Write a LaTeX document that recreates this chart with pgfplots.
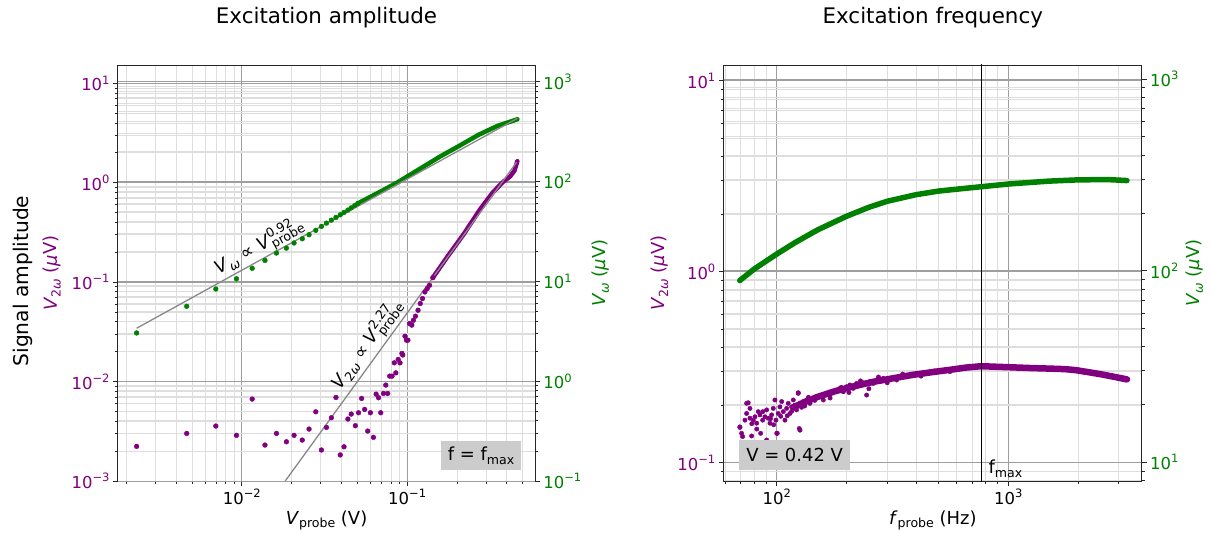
\documentclass[border=0pt]{standalone}
\usepackage{fontspec}
\setmainfont{DejaVu Sans}
\usepackage{graphicx}
\usepackage{pgfplots}
\pgfplotsset{compat=1.18}

\definecolor{vio}{HTML}{800080}
\definecolor{grn}{HTML}{008000}
\definecolor{boxgray}{HTML}{CCCCCC}
\definecolor{fitgray}{HTML}{888888}

\newcommand{\fsz}[1]{\fontsize{#1}{#1}\selectfont}
\newcommand{\sps}[1]{\raisebox{0.4em}{\scalebox{0.7}{#1}}}
\newcommand{\sbs}[1]{\raisebox{-0.22em}{\scalebox{0.7}{#1}}}
\newcommand{\spsb}[2]{\rlap{\sps{#1}}\sbs{#2}}
\newcommand{\tlfont}{\fsz{16.5}}

\tikzset{
  mydots/.style={only marks, mark=*, mark size=2.4bp},
  myband/.style={line width=#1, line cap=round, line join=round},
}

\begin{document}
\begin{tikzpicture}
\useasboundingbox (0bp,0bp) rectangle (1212bp,533bp);

% ================= left panel: excitation amplitude =================
% frame, ticks and grid of the left (V_2w) scale
\begin{axis}[xmode=log, ymode=log, scale only axis, anchor=south west,
  at={(117.9bp,52bp)}, width=417.1bp, height=416bp,
  tick align=outside, major tick length=4.9bp, minor tick length=2.8bp,
  axis line style={black!85, line width=0.8bp},
  tick style={black!85, line width=0.8bp},
  tick label style={font=\tlfont},
  major grid style={black!38, line width=0.9bp},
  minor grid style={black!13, line width=0.8bp},
  xmin=1.78e-3, xmax=0.593, ymin=1e-3, ymax=15.3,
  xtick={0.01,0.1}, xticklabels={10\sps{−2},10\sps{−1}},
  minor xtick={0.002,0.003,0.004,0.005,0.006,0.007,0.008,0.009,
    0.02,0.03,0.04,0.05,0.06,0.07,0.08,0.09,0.2,0.3,0.4,0.5},
  ytick={0.001,0.01,0.1,1,10},
  yticklabels={10\sps{−3},10\sps{−2},10\sps{−1},10\sps{0},10\sps{1}},
  minor ytick={0.002,0.003,0.004,0.005,0.006,0.007,0.008,0.009,
    0.02,0.03,0.04,0.05,0.06,0.07,0.08,0.09,
    0.2,0.3,0.4,0.5,0.6,0.7,0.8,0.9,2,3,4,5,6,7,8,9},
  xtick pos=left, ytick pos=left,
  yticklabel style={text=vio},
  xmajorgrids, xminorgrids, ymajorgrids, yminorgrids]
\end{axis}
% ticks and grid of the right (V_w) scale
\begin{axis}[xmode=log, ymode=log, scale only axis, anchor=south west,
  at={(117.9bp,52bp)}, width=417.1bp, height=416bp,
  tick align=outside, major tick length=4.9bp, minor tick length=2.8bp,
  axis line style={black!85, line width=0.8bp},
  tick style={black!85, line width=0.8bp},
  tick label style={font=\tlfont},
  major grid style={black!38, line width=0.9bp},
  minor grid style={black!13, line width=0.8bp},
  xmin=1.78e-3, xmax=0.593, ymin=0.1, ymax=1469,
  axis x line=none, axis y line*=right,
  ytick={0.1,1,10,100,1000},
  yticklabels={10\sps{−1},10\sps{0},10\sps{1},10\sps{2},10\sps{3}},
  minor ytick={0.2,0.3,0.4,0.5,0.6,0.7,0.8,0.9,2,3,4,5,6,7,8,9,
    20,30,40,50,60,70,80,90,200,300,400,500,600,700,800,900},
  yticklabel style={text=grn},
  ymajorgrids, yminorgrids]
\end{axis}
% V_2w data
\begin{axis}[xmode=log, ymode=log, scale only axis, anchor=south west,
  at={(117.9bp,52bp)}, width=417.1bp, height=416bp, hide axis,
  xmin=1.78e-3, xmax=0.593, ymin=1e-3, ymax=15.3]
\addplot[mydots, color=vio] coordinates {
  (0.00231,2.23e-3) (0.00464,3.01e-3) (0.00696,3.57e-3) (0.00928,2.88e-3)
  (0.01155,6.67e-3) (0.0138,2.30e-3) (0.0162,3.01e-3) (0.0186,2.48e-3)
  (0.0207,2.88e-3) (0.0232,2.58e-3) (0.0255,3.33e-3) (0.0280,4.97e-3)
  (0.0303,2.05e-3) (0.0325,3.46e-3) (0.0348,4.33e-3) (0.0371,6.93e-3)
  (0.0394,1.83e-3) (0.0415,2.21e-3) (0.0438,4.2e-3) (0.0459,4.71e-3)
  (0.0486,3.6e-3) (0.0508,4.86e-3) (0.053,6.77e-3) (0.0553,5.25e-3)
  (0.0577,3.18e-3) (0.0599,4.86e-3) (0.0625,2.75e-3) (0.0649,7.48e-3)
  (0.0671,6.88e-3) (0.0692,4.86e-3) (0.0719,7.6e-3) (0.0742,9.22e-3)
  (0.0762,7.6e-3) (0.0784,1.135e-2) (0.081,1.135e-2) (0.0836,1.545e-2)
  (0.0854,1.225e-2) (0.0882,1.67e-2) (0.0905,1.545e-2) (0.093,1.92e-2)
  (0.094,1.85e-2) (0.097,2.86e-2) (0.099,2.61e-2) (0.101,2.61e-2)
  (0.1034,3.84e-2) (0.1066,3.7e-2) (0.109,4.14e-2) (0.1123,4.55e-2)
  (0.1163,5.22e-2) (0.12,6.1e-2) (0.1238,6.84e-2) (0.128,7.98e-2)
  (0.1322,8.62e-2) (0.1366,9.31e-2) (0.143,0.111)};
\addplot[vio, myband=4.5bp] coordinates {
  (0.143,0.111) (0.175,0.180) (0.22,0.305) (0.276,0.540) (0.33,0.80)
  (0.38,1.02) (0.42,1.16) (0.445,1.32) (0.464,1.65)};
\addplot[fitgray, line width=1.3bp] coordinates {(0.0183,0.001) (0.459,1.61)};
\end{axis}
% V_w data
\begin{axis}[xmode=log, ymode=log, scale only axis, anchor=south west,
  at={(117.9bp,52bp)}, width=417.1bp, height=416bp, hide axis,
  xmin=1.78e-3, xmax=0.593, ymin=0.1, ymax=1469]
\addplot[mydots, color=grn] coordinates {
  (0.00231,3.04) (0.00464,5.62) (0.00696,8.38) (0.00928,10.6) (0.01155,13.5)
  (0.0138,16.2) (0.0162,19.2) (0.0186,21.5) (0.0207,24.2) (0.0232,26.7)
  (0.0255,29.3) (0.0280,32.4) (0.0303,35.5) (0.0325,38.3) (0.0348,41.0)
  (0.0371,43.7) (0.0394,46.4) (0.0415,49.0) (0.0438,51.7) (0.0459,54.5)
  (0.0482,57.5) (0.0503,60.3)};
\addplot[grn, myband=4.5bp] coordinates {
  (0.0503,60.3) (0.0711,81.3) (0.088,98.5) (0.1212,136) (0.1581,177.8)
  (0.2064,227.4) (0.2695,292.8) (0.3517,360.5) (0.4642,420)};
\addplot[fitgray, line width=1.3bp] coordinates {(0.00231,3.39) (0.4645,430)};
\end{axis}

% ================= right panel: excitation frequency =================
\begin{axis}[xmode=log, ymode=log, scale only axis, anchor=south west,
  at={(723.7bp,52bp)}, width=418.1bp, height=416bp,
  tick align=outside, major tick length=4.9bp, minor tick length=2.8bp,
  axis line style={black!85, line width=0.8bp},
  tick style={black!85, line width=0.8bp},
  tick label style={font=\tlfont},
  major grid style={black!38, line width=0.9bp},
  minor grid style={black!13, line width=0.8bp},
  xmin=59, xmax=3776, ymin=0.0802, ymax=12.08,
  xtick={100,1000}, xticklabels={10\sps{2},10\sps{3}},
  minor xtick={60,70,80,90,200,300,400,500,600,700,800,900,2000,3000},
  ytick={0.1,1,10}, yticklabels={10\sps{−1},10\sps{0},10\sps{1}},
  minor ytick={0.09,0.2,0.3,0.4,0.5,0.6,0.7,0.8,0.9,2,3,4,5,6,7,8,9},
  xtick pos=left, ytick pos=left,
  yticklabel style={text=vio},
  xmajorgrids, xminorgrids, ymajorgrids, yminorgrids]
\end{axis}
\begin{axis}[xmode=log, ymode=log, scale only axis, anchor=south west,
  at={(723.7bp,52bp)}, width=418.1bp, height=416bp,
  tick align=outside, major tick length=4.9bp, minor tick length=2.8bp,
  axis line style={black!85, line width=0.8bp},
  tick style={black!85, line width=0.8bp},
  tick label style={font=\tlfont},
  major grid style={black!38, line width=0.9bp},
  minor grid style={black!13, line width=0.8bp},
  xmin=59, xmax=3776, ymin=7.98, ymax=1183,
  axis x line=none, axis y line*=right,
  ytick={10,100,1000}, yticklabels={10\sps{1},10\sps{2},10\sps{3}},
  minor ytick={8,9,20,30,40,50,60,70,80,90,200,300,400,500,600,700,800,900},
  yticklabel style={text=grn},
  ymajorgrids, yminorgrids]
\end{axis}
\begin{axis}[xmode=log, ymode=log, scale only axis, anchor=south west,
  at={(723.7bp,52bp)}, width=418.1bp, height=416bp, hide axis,
  xmin=59, xmax=3776, ymin=0.0802, ymax=12.08]
\addplot[vio, myband=6.5bp] coordinates {
  (118,0.195) (130,0.206) (150,0.221) (177,0.236) (215,0.251) (261,0.265)
  (320,0.277) (385,0.288) (470,0.298) (567,0.307) (660,0.315) (765,0.320)
  (880,0.318) (1016,0.316) (1250,0.313) (1497,0.311) (1750,0.309)
  (1965,0.305) (2250,0.297) (2490,0.291) (2850,0.282) (3258,0.273)};
\addplot[mydots, color=vio, mark size=2.2bp] coordinates {
  (69.3,0.153) (70.5,0.1425) (71.2,0.137) (72.9,0.167) (74.1,0.181) (75.3,0.206)
  (76.6,0.1925) (76.6,0.171) (77.9,0.138) (79.2,0.167) (80.5,0.174) (81.9,0.161)
  (83.2,0.185) (84.6,0.178) (85.2,0.1425) (86.9,0.167) (88.9,0.174) (90.4,0.189)
  (91.9,0.171) (93.5,0.161) (95.0,0.178) (96.6,0.1925) (98.2,0.213) (99.2,0.167)
  (100.5,0.1425) (101.5,0.181) (103.2,0.196) (105.0,0.209) (106.7,0.185)
  (108.5,0.167) (110.3,0.1925) (112.1,0.2045) (114.0,0.181) (115.9,0.196)
  (117.9,0.213) (119.8,0.200) (121.8,0.189) (123.9,0.2325) (125.1,0.151)
  (126.0,0.2045) (130.2,0.209) (134.6,0.213) (139.1,0.2045) (143.8,0.217)
  (148.6,0.222) (153.6,0.223) (158.9,0.213) (164.2,0.231) (169.7,0.226)
  (175.5,0.235) (181.4,0.240) (187.5,0.245) (193.8,0.235) (200.3,0.250)
  (207.1,0.255) (214.1,0.245) (221.3,0.260) (228.7,0.258) (236.4,0.262)
  (244.4,0.226) (252.6,0.266) (261.2,0.260) (270.0,0.271) (279.1,0.266)
  (288.5,0.2765) (298.3,0.271) (308.3,0.273) (318.7,0.2765) (329.5,0.271)
  (69.3,0.154) (74.1,0.2046) (123.8,0.2307) (126,0.148) (90.4,0.1315) (100,0.1425)
  (78,0.160) (82,0.150) (87,0.185) (94,0.170) (97,0.158) (104,0.175)
  (111,0.176) (116,0.186) (128,0.195) (132,0.198) (137,0.220) (146,0.212)
  (160,0.226) (170,0.218) (190,0.248) (205,0.233) (230,0.268) (250,0.244)
  (275,0.281) (300,0.262) (350,0.291) (420,0.284) (480,0.302) (560,0.300)};
\addplot[black, line width=1.3bp] coordinates {(765,0.05) (765,20)};
\end{axis}
\begin{axis}[xmode=log, ymode=log, scale only axis, anchor=south west,
  at={(723.7bp,52bp)}, width=418.1bp, height=416bp, hide axis,
  xmin=59, xmax=3776, ymin=7.98, ymax=1183]
\addplot[grn, myband=5.5bp] coordinates {
  (69.2,88.7) (80,102) (100,122) (120,140) (150,163) (200,192) (250,214)
  (300,230) (400,249) (500,260) (600,266) (765,274) (1000,283) (1500,293)
  (2000,297.5) (2700,298.5) (3258,295)};
\end{axis}

% ================= texts =================
\node[anchor=base, font=\fsz{21.5}] at (326.5bp,509.7bp) {Excitation amplitude};
\node[anchor=base, font=\fsz{21.5}] at (932.8bp,509.7bp) {Excitation frequency};

\node[anchor=base, font=\fsz{18}] at (326.5bp,9bp) {\textit{V}\sbs{probe} (V)};
\node[anchor=base, font=\fsz{18}] at (932.8bp,9bp) {\textit{f}\sbs{probe} (Hz)};

\node[anchor=base, rotate=90, font=\fsz{20.3}] at (28.3bp,252bp) {Signal amplitude};
\node[anchor=base, rotate=90, font=\fsz{18}, text=vio] at (56.8bp,259.7bp)
  {\textit{V}\sbs{2\textit{ω}} (\textit{μ}V)};
\node[anchor=base, rotate=90, font=\fsz{18}, text=grn] at (605bp,259.7bp)
  {\textit{V}\sbs{\textit{ω}} (\textit{μ}V)};
\node[anchor=base, rotate=90, font=\fsz{18}, text=vio] at (664.2bp,259.7bp)
  {\textit{V}\sbs{2\textit{ω}} (\textit{μ}V)};
\node[anchor=base, rotate=90, font=\fsz{18}, text=grn] at (1199bp,259.7bp)
  {\textit{V}\sbs{\textit{ω}} (\textit{μ}V)};

\node[rotate=29, font=\fsz{18}, inner sep=0] at (259bp,286bp)
  {\textit{V}\sbs{\textit{ω}} ∝ \textit{V}\spsb{0.92}{probe}};
\node[rotate=54, font=\fsz{18}, inner sep=0] at (367bp,188bp)
  {\textit{V}\sbs{2\textit{ω}} ∝ \textit{V}\spsb{2.27}{probe}};

\node[fill=boxgray, minimum width=80.4bp, minimum height=29bp, inner sep=0,
  font=\fsz{18}] at (481bp,77.5bp) {f = f\sbs{max}};
\node[fill=boxgray, minimum width=110.7bp, minimum height=30bp, inner sep=0,
  font=\fsz{18}] at (794.6bp,78bp) {V = 0.42 V};
\node[anchor=base west, inner sep=0, font=\fsz{18}] at (988.4bp,59.7bp) {f\sbs{max}};
\end{tikzpicture}
\end{document}
